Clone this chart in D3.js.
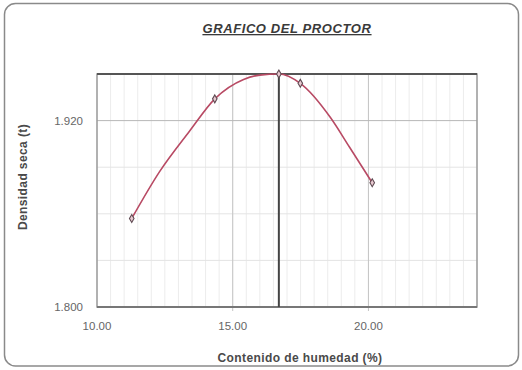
<!DOCTYPE html>
<html><head><meta charset="utf-8">
<script src="https://cdn.jsdelivr.net/npm/d3@7"></script>
<style>body{margin:0;background:#fff;}svg{display:block;font-family:"Liberation Sans",Arial,sans-serif;}</style>
</head><body><svg id="c" width="522" height="370"></svg>
<script>
// measured points
const humedad = [11.28, 14.34, 17.49, 20.14];
const densidad = [1.857, 1.934, 1.944, 1.880];
// optimum
const optHumedad = 16.70;
const maxDensidad = 1.950;
// fitted curve
const curvaH = [11.28, 12.3, 13.4, 14.34, 15.4, 16.0, 16.7, 17.49, 18.6, 19.3, 20.14];
const curvaD = [1.857, 1.887, 1.913, 1.934, 1.9465, 1.9493, 1.950, 1.944, 1.922, 1.903, 1.880];
const xTicks = [10, 15, 20];
const yTicks = [1.800, 1.920];
const xMinor = d3.range(10, 24.01, 0.5);
const yMinor = [1.83, 1.86, 1.89, 1.95];

const svg = d3.select("#c");
const m = {l:97, t:74, r:477, b:307};
const x = d3.scaleLinear().domain([10, 24]).range([m.l, m.r]);
const y = d3.scaleLinear().domain([1.800, 1.950]).range([m.b, m.t]);

svg.append("rect").attr("x",4.5).attr("y",3.5).attr("width",514).attr("height",362.5).attr("rx",11)
  .attr("fill","#fff").attr("stroke","#8a8a8a").attr("stroke-width",1.5);

svg.append("text").attr("x",287).attr("y",33).attr("text-anchor","middle")
  .attr("font-size",13).attr("font-weight","bold").attr("font-style","italic").attr("letter-spacing",0.6)
  .attr("text-decoration","underline").attr("fill","#3a3a3a").text("GRAFICO DEL PROCTOR");

const g = svg.append("g");
g.selectAll(".vx").data(xMinor).join("line").attr("x1",d=>x(d)).attr("x2",d=>x(d))
  .attr("y1",m.t).attr("y2",m.b).attr("stroke","#ececec").attr("stroke-width",1);
g.selectAll(".hy").data(yMinor).join("line").attr("y1",d=>y(d)).attr("y2",d=>y(d))
  .attr("x1",m.l).attr("x2",m.r).attr("stroke","#e4e4e4").attr("stroke-width",1);
g.selectAll(".mx").data(xTicks.slice(1)).join("line").attr("x1",d=>x(d)).attr("x2",d=>x(d))
  .attr("y1",m.t).attr("y2",m.b+4).attr("stroke","#c4c4c4").attr("stroke-width",1);
g.selectAll(".my").data(yTicks.slice(1)).join("line").attr("y1",d=>y(d)).attr("y2",d=>y(d))
  .attr("x1",m.l).attr("x2",m.r).attr("stroke","#b8b8b8").attr("stroke-width",1);
g.append("rect").attr("x",m.l).attr("y",m.t).attr("width",m.r-m.l).attr("height",m.b-m.t)
  .attr("fill","none").attr("stroke","#9a9a9a").attr("stroke-width",1.5);
g.append("line").attr("x1",m.l).attr("x2",m.r).attr("y1",m.t).attr("y2",m.t).attr("stroke","#555").attr("stroke-width",2);
g.append("line").attr("x1",m.l).attr("x2",m.r).attr("y1",m.b).attr("y2",m.b).attr("stroke","#777").attr("stroke-width",2);

svg.append("g").selectAll("text").data(xTicks).join("text").attr("x",d=>x(d)).attr("y",330)
  .attr("text-anchor","middle").attr("font-size",11.5).attr("fill","#666").text(d=>d.toFixed(2));
svg.append("g").selectAll("text").data(yTicks).join("text").attr("x",83).attr("y",d=>y(d)+4)
  .attr("text-anchor","end").attr("font-size",11.5).attr("fill","#666").text(d=>d.toFixed(3));

svg.append("text").attr("x",300).attr("y",362).attr("text-anchor","middle").attr("font-size",12)
  .attr("font-weight","bold").attr("letter-spacing",0.4).attr("fill","#4a4a4a").text("Contenido de humedad (%)");
svg.append("text").attr("transform","translate(27,177) rotate(-90)").attr("text-anchor","middle")
  .attr("font-size",12).attr("font-weight","bold").attr("letter-spacing",0.4).attr("fill","#4a4a4a").text("Densidad seca (t)");

svg.append("line").attr("x1",x(optHumedad)).attr("x2",x(optHumedad)).attr("y1",m.t-3).attr("y2",m.b)
  .attr("stroke","#444").attr("stroke-width",2);

const curva = curvaH.map((h,i)=>[h,curvaD[i]]);
svg.append("path").attr("d", d3.line().x(d=>x(d[0])).y(d=>y(d[1])).curve(d3.curveMonotoneX)(curva))
  .attr("fill","none").attr("stroke","#b84a64").attr("stroke-width",1.6);

const pts = humedad.map((h,i)=>[h,densidad[i]]).concat([[optHumedad,maxDensidad]]);
const sym = d3.symbol().type(d3.symbolDiamond).size(18);
svg.append("g").selectAll("path").data(pts).join("path")
  .attr("transform",d=>`translate(${x(d[0])},${y(d[1])})`).attr("d",sym)
  .attr("fill","#e9c9d1").attr("stroke","#5e4a52").attr("stroke-width",1.1);
</script></body></html>
